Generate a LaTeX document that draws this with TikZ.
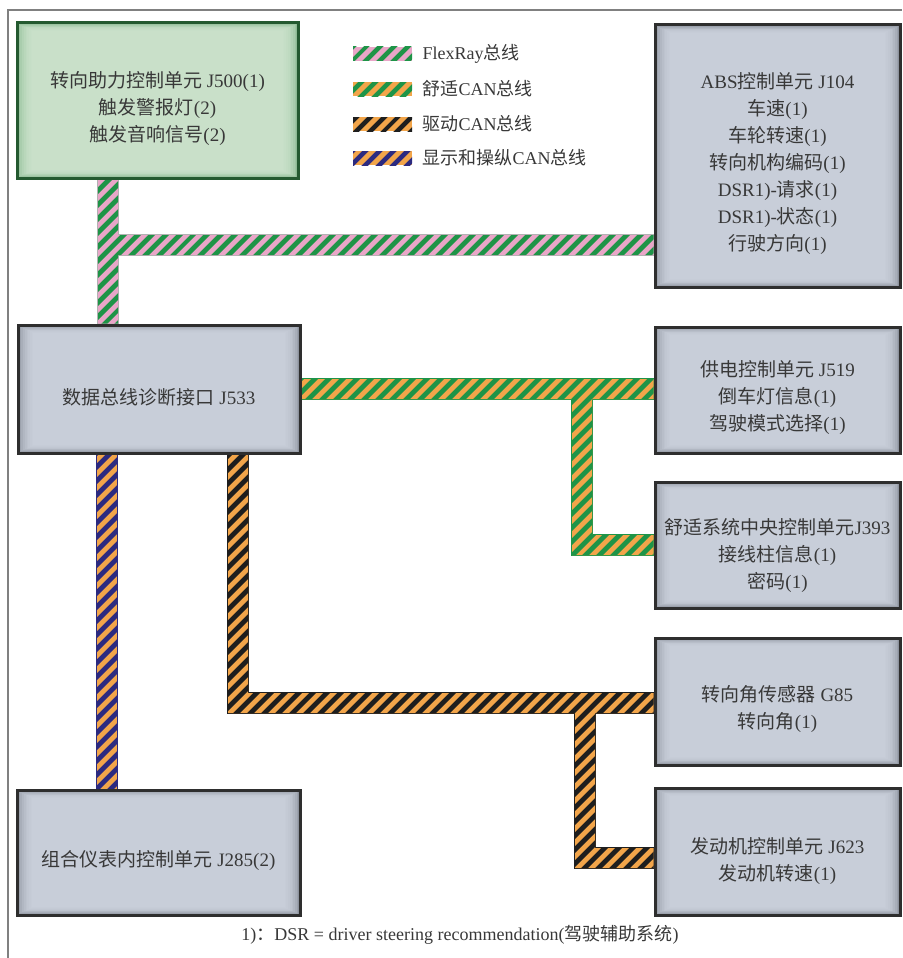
\documentclass[tikz,border=0pt]{standalone}
\usepackage{fontspec}
\setmainfont{Liberation Serif}
\newfontfamily\cjk{Noto Sans CJK SC}
\usetikzlibrary{calc,patterns.meta,backgrounds}
\definecolor{verdeBus}{HTML}{1E9447}
\definecolor{rosaBus}{HTML}{E9A6C8}
\definecolor{laranjaBus}{HTML}{F2A54A}
\definecolor{pretoBus}{HTML}{1E1E1E}
\definecolor{azulBus}{HTML}{2C2A80}
\definecolor{cinzaBorda}{HTML}{2E2E2E}
\definecolor{cinzaLado}{HTML}{8C929D}
\definecolor{cinzaMeio}{HTML}{CFD4E0}
\definecolor{verdeBorda}{HTML}{245A30}
\definecolor{verdeLado}{HTML}{8DBB94}
\definecolor{verdeMeio}{HTML}{CFE5CF}
\definecolor{textoCor}{HTML}{383838}
\newcommand{\corFlex}{verdeBus}
\newcommand{\corConf}{verdeBus}
\newcommand{\corDrive}{pretoBus}
\newcommand{\corDisp}{azulBus}
\newcommand{\zh}[1]{{\cjk #1}}
\newcommand{\topo}[1][32pt]{\rule{0pt}{#1}}
\newcommand{\bw}{10}
\tikzset{
  bevel/.style 2 args={fill=#1, path picture={
      \foreach \k in {1,...,9}
        \fill[#2, opacity=0.25]
          ([shift={(\k*1.7pt,-\k*0.9pt)}]path picture bounding box.north west) rectangle
          ([shift={(-\k*1.7pt,\k*0.9pt)}]path picture bounding box.south east);}},
  ecu/.style={draw=cinzaBorda, line width=3pt, bevel={cinzaLado}{cinzaMeio},
    text=textoCor, align=center, font=\fontsize{19}{27}\selectfont},
  ecugreen/.style={ecu, draw=verdeBorda, bevel={verdeLado}{verdeMeio}},
  stripes/.style={postaction={pattern={Lines[angle=45,distance=10.5pt,line width=5.2pt]}, pattern color=#1}},
  busflex/.style={fill=rosaBus, stripes=\corFlex},
  busconf/.style={fill=laranjaBus, stripes=\corConf},
  busdrive/.style={fill=laranjaBus, stripes=\corDrive},
  busdisp/.style={fill=laranjaBus, stripes=\corDisp},
  busedge/.style={draw=#1, line width=22pt},
  legtext/.style={anchor=west, text=textoCor, font=\fontsize{18}{22}\selectfont}
}
\begin{document}
\begin{tikzpicture}[x=1pt, y=-1pt]
    \useasboundingbox (0,0) rectangle (902,958);
    % frame
    \draw[gray, line width=1.2pt] (8,958) -- (8,10) -- (902,10);

    % control units
    \node[ecugreen, minimum width=281pt, minimum height=155pt] (j500) at (157.5,100.5)
        {\topo\zh{转向助力控制单元} J500(1)\\ \zh{触发警报灯}(2)\\ \zh{触发音响信号}(2)};
    \node[ecu, minimum width=245pt, minimum height=262pt] (abs) at (777.5,156)
        {\topo ABS\zh{控制单元} J104\\ \zh{车速}(1)\\ \zh{车轮转速}(1)\\ \zh{转向机构编码}(1)\\
         DSR1)-\zh{请求}(1)\\ DSR1)-\zh{状态}(1)\\ \zh{行驶方向}(1)};
    \node[ecu, minimum width=282pt, minimum height=128pt] (j533) at (159,389)
        {\topo\zh{数据总线诊断接口} J533};
    \node[ecu, minimum width=245pt, minimum height=126pt] (j519) at (777.5,390)
        {\topo\zh{供电控制单元} J519\\ \zh{倒车灯信息}(1)\\ \zh{驾驶模式选择}(1)};
    \node[ecu, minimum width=245pt, minimum height=126pt, inner sep=1pt] (j393) at (777.5,545)
        {\topo[38pt]\zh{舒适系统中央控制单元}J393\\ \zh{接线柱信息}(1)\\ \zh{密码}(1)};
    \node[ecu, minimum width=245pt, minimum height=127pt] (g85) at (777.5,701.5)
        {\topo\zh{转向角传感器} G85\\ \zh{转向角}(1)};
    \node[ecu, minimum width=245pt, minimum height=127pt] (j623) at (777.5,851.5)
        {\topo[36pt]\zh{发动机控制单元} J623\\ \zh{发动机转速}(1)};
    \node[ecu, minimum width=283pt, minimum height=125pt] (j285) at (158.5,852.5)
        {\topo\zh{组合仪表内控制单元} J285(2)};

    \begin{scope}[on background layer]
        % FlexRay bus
        \coordinate (fl) at (108,245);
        \draw[busedge=gray!60] (j500.south -| fl) -- (j533.north -| fl);
        \draw[busedge=gray!60] (fl) -- (abs.west |- fl);
        \fill[busflex] ($(j500.south -| fl)+(-\bw,0)$) rectangle ($(j533.north -| fl)+(\bw,0)$)
                       ($(fl)+(-\bw,-\bw)$) rectangle ($(abs.west |- fl)+(0,\bw)$);

        % comfort CAN bus
        \coordinate (cv) at (582,0);
        \draw[busedge=\corConf] (j533.east) -- (j519.west |- j533.east);
        \draw[busedge=\corConf] (cv |- j533.east) -- (cv |- j393.west);
        \draw[busedge=\corConf] ($(cv |- j393.west)+(-11,0)$) -- (j393.west);
        \fill[busconf] ($(j533.east)+(0,-\bw)$) rectangle ($(j519.west |- j533.east)+(0,\bw)$)
                       ($(cv |- j533.east)+(-\bw,0)$) rectangle ($(cv |- j393.west)+(\bw,\bw)$)
                       ($(cv |- j393.west)+(-\bw,-\bw)$) rectangle ($(j393.west)+(0,\bw)$);

        % drive CAN bus
        \coordinate (dv) at (238,703);
        \coordinate (dw) at (585,858);
        \draw[busedge=\corDrive] (j533.south -| dv) -- ($(dv)+(0,11)$);
        \draw[busedge=\corDrive] (dv) -- (g85.west |- dv);
        \draw[busedge=\corDrive] (dw |- dv) -- ($(dw)+(0,11)$);
        \draw[busedge=\corDrive] (dw) -- (j623.west |- dw);
        \fill[busdrive] ($(j533.south -| dv)+(-\bw,0)$) rectangle ($(dv)+(\bw,\bw)$)
                        ($(dv)+(-\bw,-\bw)$) rectangle ($(g85.west |- dv)+(0,\bw)$)
                        ($(dw |- dv)+(-\bw,0)$) rectangle ($(dw)+(\bw,\bw)$)
                        ($(dw)+(-\bw,-\bw)$) rectangle ($(j623.west |- dw)+(0,\bw)$);

        % display and operating CAN bus
        \coordinate (dp) at (107,0);
        \draw[busedge=\corDisp] (j533.south -| dp) -- (j285.north -| dp);
        \fill[busdisp] ($(j533.south -| dp)+(-\bw,0)$) rectangle ($(j285.north -| dp)+(\bw,0)$);
    \end{scope}

    % legend
    \fill[busflex]  (353,47)  rectangle (412,61);
    \fill[busconf]  (353,82)  rectangle (412,96);
    \fill[busdrive] (353,117) rectangle (412,131);
    \fill[busdisp]  (353,151) rectangle (412,165);
    \node[legtext] (leg1) at (419,54)  {FlexRay\zh{总线}};
    \node[legtext] (leg2) at (419,89)  {\zh{舒适}CAN\zh{总线}};
    \node[legtext] (leg3) at (419,124) {\zh{驱动}CAN\zh{总线}};
    \node[legtext] (leg4) at (419,158) {\zh{显示和操纵}CAN\zh{总线}};

    % footnote
    \node[text=textoCor, font=\fontsize{18}{20}\selectfont] (nota) at (460,935)
        {1)\zh{：}DSR = driver steering recommendation(\zh{驾驶辅助系统})};
\end{tikzpicture}
\end{document}
